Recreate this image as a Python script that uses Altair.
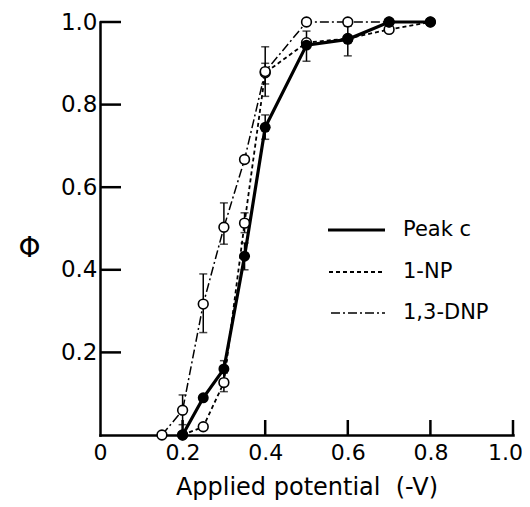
import altair as alt
import pandas as pd

# ---- data ----
peak_x = [0.2, 0.25, 0.3, 0.35, 0.4, 0.5, 0.6, 0.7, 0.8]
peak_y = [0.0, 0.09, 0.16, 0.433, 0.745, 0.944, 0.958, 1.0, 1.0]

np_x = [0.2, 0.25, 0.3, 0.35, 0.4, 0.5, 0.6, 0.7, 0.8]
np_y = [0.0, 0.02, 0.127, 0.513, 0.877, 0.95, 0.96, 0.982, 1.0]

dnp_x = [0.15, 0.2, 0.25, 0.3, 0.35, 0.4, 0.5, 0.6, 0.7]
dnp_y = [0.0, 0.06, 0.317, 0.503, 0.667, 0.88, 1.0, 1.0, 1.0]

# error bars (x, low, high)
peak_err_x = [0.3, 0.35, 0.4, 0.5, 0.6]
peak_err_lo = [0.135, 0.40, 0.716, 0.905, 0.918]
peak_err_hi = [0.18, 0.465, 0.775, 0.978, 0.99]

np_err_x = [0.3, 0.35, 0.4]
np_err_lo = [0.105, 0.49, 0.85]
np_err_hi = [0.15, 0.538, 0.90]

dnp_err_x = [0.2, 0.25, 0.3, 0.4]
dnp_err_lo = [0.025, 0.248, 0.462, 0.82]
dnp_err_hi = [0.097, 0.39, 0.562, 0.94]

x_ticks = [0.0, 0.2, 0.4, 0.6, 0.8, 1.0]
y_ticks = [0.2, 0.4, 0.6, 0.8, 1.0]

legend_labels = ["Peak c", "1-NP", "1,3-DNP"]

FONT = "DejaVu Sans"

peak = pd.DataFrame({"x": peak_x, "y": peak_y})
onp = pd.DataFrame({"x": np_x, "y": np_y})
dnp = pd.DataFrame({"x": dnp_x, "y": dnp_y})
peak_err = pd.DataFrame({"x": peak_err_x, "lo": peak_err_lo, "hi": peak_err_hi})
np_err = pd.DataFrame({"x": np_err_x, "lo": np_err_lo, "hi": np_err_hi})
dnp_err = pd.DataFrame({"x": dnp_err_x, "lo": dnp_err_lo, "hi": dnp_err_hi})
err_all = pd.concat([peak_err, np_err, dnp_err], ignore_index=True)

xs = alt.Scale(domain=[0, 1.0], nice=False, zero=False)
ys = alt.Scale(domain=[0, 1.0], nice=False, zero=False)

X = alt.X("x:Q", scale=xs, axis=alt.Axis(
    values=x_ticks, title="Applied potential \u00a0(-V)", ticks=False, grid=False,
    labelExpr="datum.value == 0 ? '0' : format(datum.value, '.1f')",
    labelFontSize=22, labelFont=FONT, labelColor="black", labelPadding=7,
    labelFlush=False, labelOverlap=False,
    labelOffset={"condition": {"test": "datum.value == 1", "value": -8}, "value": 0},
    domainColor="black", domainWidth=2.5,
    titleFont=FONT, titleFontSize=24, titleFontWeight="normal", titleColor="black",
    titlePadding=12))
Y = alt.Y("y:Q", scale=ys, axis=alt.Axis(
    values=y_ticks, title="Φ", ticks=False, grid=False, format=".1f",
    labelFontSize=23, labelFont=FONT, labelColor="black", labelPadding=3,
    labelFlush=False, labelOverlap=False,
    domainColor="black", domainWidth=2.5,
    titleFont=FONT, titleFontSize=28, titleFontWeight="normal", titleColor="black",
    titleAngle=0, titleX=-71, titleY=226, titleAlign="center", titleBaseline="middle"))

base_axes = alt.Chart(peak).mark_point(opacity=0).encode(x=X, y=Y)

# inward ticks
yt = alt.Chart(pd.DataFrame({"y": y_ticks})).mark_rule(color="black", strokeWidth=2.5).encode(
    y=alt.Y("y:Q", scale=ys), x=alt.value(0), x2=alt.value(21))
xt = alt.Chart(pd.DataFrame({"x": x_ticks[1:]})).mark_rule(color="black", strokeWidth=2.5).encode(
    x=alt.X("x:Q", scale=xs), y=alt.value(413), y2=alt.value(398))

def line(df, width, dash):
    kw = dict(color="black", strokeWidth=width)
    if dash:
        kw["strokeDash"] = dash
    return alt.Chart(df).mark_line(**kw).encode(
        x=alt.X("x:Q", scale=xs), y=alt.Y("y:Q", scale=ys))

dash_np = [4, 3]
dash_dnp = [9, 3, 2, 3]

l_dnp = line(dnp, 1.5, dash_dnp)
l_np = line(onp, 1.8, dash_np)
l_peak = line(peak, 3.2, None)

err_rule = alt.Chart(err_all).mark_rule(color="black", strokeWidth=1.5).encode(
    x=alt.X("x:Q", scale=xs), y=alt.Y("lo:Q", scale=ys), y2="hi:Q")
cap_shape = "M-1,0L1,0"
cap_lo = alt.Chart(err_all).mark_point(shape=cap_shape, size=64, color="black", strokeWidth=1.5, filled=False).encode(
    x=alt.X("x:Q", scale=xs), y=alt.Y("lo:Q", scale=ys))
cap_hi = alt.Chart(err_all).mark_point(shape=cap_shape, size=64, color="black", strokeWidth=1.5, filled=False).encode(
    x=alt.X("x:Q", scale=xs), y=alt.Y("hi:Q", scale=ys))

def open_pts(df):
    return alt.Chart(df).mark_point(shape="circle", size=95, filled=True, fill="white",
                                    stroke="black", strokeWidth=1.6, opacity=1).encode(
        x=alt.X("x:Q", scale=xs), y=alt.Y("y:Q", scale=ys))

p_np = open_pts(onp)
p_dnp = open_pts(dnp)
p_peak = alt.Chart(peak).mark_point(shape="circle", size=120, filled=True, color="black", opacity=1).encode(
    x=alt.X("x:Q", scale=xs), y=alt.Y("y:Q", scale=ys))

# legend
leg_y = [208, 250, 291]
leg = pd.DataFrame({"label": legend_labels, "ly": leg_y})
lg_solid = alt.Chart(leg.iloc[[0]]).mark_rule(color="black", strokeWidth=3).encode(
    x=alt.value(228), x2=alt.value(285), y=alt.value(leg_y[0]))
lg_dash = alt.Chart(leg.iloc[[1]]).mark_rule(color="black", strokeWidth=1.8, strokeDash=dash_np).encode(
    x=alt.value(229), x2=alt.value(285), y=alt.value(leg_y[1]))
lg_dd = alt.Chart(leg.iloc[[2]]).mark_rule(color="black", strokeWidth=1.5, strokeDash=dash_dnp).encode(
    x=alt.value(231), x2=alt.value(285), y=alt.value(leg_y[2]))
lg_text = alt.Chart(leg).mark_text(align="left", baseline="middle", font=FONT, fontSize=21, color="black").encode(
    x=alt.value(303), y=alt.Y("ly:Q", scale=None), text="label:N")

chart = alt.layer(
    base_axes, yt, xt, l_dnp, l_np, l_peak, err_rule, cap_lo, cap_hi,
    p_np, p_dnp, p_peak, lg_solid, lg_dash, lg_dd, lg_text
).properties(
    width=413, height=413,
    autosize=alt.AutoSizeParams(type="none"),
    padding={"left": 92, "top": 14, "right": 9, "bottom": 70},
).configure_view(stroke=None).configure_axis(domainCap="square")

chart.save("out.html", embed_options={"renderer": "svg", "actions": False})
